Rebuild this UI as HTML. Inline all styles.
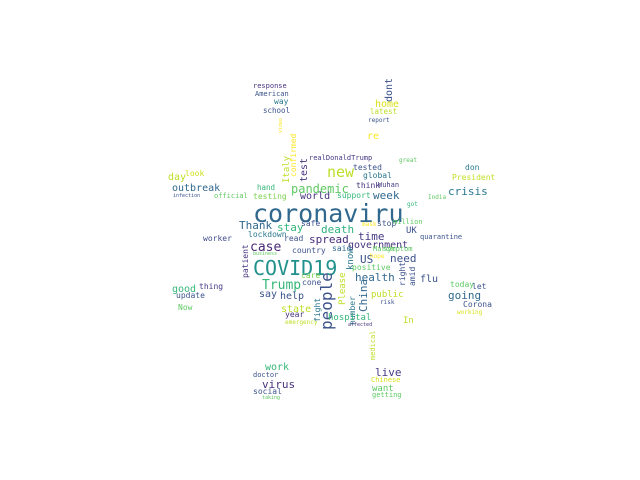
<!DOCTYPE html>
<html><head><meta charset="utf-8"><style>
html,body{margin:0;padding:0;background:#fff;}
svg{display:block;}
text{font-family:"DejaVu Sans Mono","Liberation Mono",monospace;}
</style></head><body>
<svg id="cloud" width="640" height="480" viewBox="0 0 640 480"></svg>
<script>
// word, font size, color, x, y, rotated
const words = ["coronaviru","COVID19","people","pandemic","new","Trump","case","time","death","spread","government","stay","Thank","week","crisis","health","going","China","live","virus","US","need","home","day","outbreak","world","good","say","help","state","work","flu","dont","test","Italy","confirmed","response","American","way","school","look","hand","testing","safe","lockdown","read","worker","realDonaldTrump","latest","report","re","tested","global","don","President","think","Wuhan","support","India","stop","million","UK","quarantine","country","patient","thing","update","cone","care","Now","year","emergency","fight","doctor","social","said","know","positive","March","symptom","right","amid","today","let","public","Please","number","Corona","risk","working","hospital","In","medical","Chinese","want","getting","official","great","hope","mask","got","infection","taking","affected","video","business"];
const sizes = [25,20,16,12,15,13,13,11,11,11,10,11,11,11,11,11,11,11,11,11,11,11,10,10,10,10,10,10,10,10,10,10,10,10,9,8,7,7,8,7.5,8,7.5,8,8,8,8,8,7,7.5,6,10,8,8,8,8,8,7,8,6,8,7,9,7,8,8,8,8,8,8,8,8,6,8,7,8,8,9,8,7,7,8,8,8,8,9,9,8,8,6,6,9,9,7,7,9,7,7,6,6,6,6,5,5,5,5,5];
const colors = ["#31688e","#21918c","#3b528b","#5ec962","#bddf26","#35b779","#482878","#443983","#2db27d","#472d7b","#46337e","#35b779","#31688e","#31688e","#2a788e","#31688e","#31688e","#31688e","#443983","#46337e","#3b528b","#3b528b","#d8e219","#bddf26","#31688e","#46337e","#35b779","#3b528b","#3b528b","#bddf26","#35b779","#3b528b","#3b528b","#46337e","#bddf26","#fde725","#46337e","#3b528b","#2a788e","#3b528b","#d0e11c","#35b779","#7ad151","#3b528b","#2a788e","#3b528b","#3e4a89","#443983","#bddf26","#3b528b","#fde725","#3b528b","#2a788e","#2a788e","#c2df23","#46337e","#443983","#35b779","#5ec962","#3b528b","#5ec962","#3b528b","#3b528b","#3b528b","#46337e","#443983","#3b528b","#3b528b","#7ad151","#5ec962","#46337e","#bddf26","#2a788e","#3b528b","#3b528b","#31688e","#2a788e","#5ec962","#5ec962","#5ec962","#3b528b","#3b528b","#5ec962","#3b528b","#bddf26","#bddf26","#2a788e","#3b528b","#3b528b","#d8e219","#35b779","#bddf26","#bddf26","#d8e219","#5ec962","#5ec962","#5ec962","#5ec962","#fde725","#fde725","#35b779","#3b528b","#5ec962","#46337e","#fde725","#5ec962"];
const posX = [253,253,332,291,327,262,250,358,321,309,348,277,239,373,448,355,448,367,375,262,360,390,375,168,172,300,172,259,280,281,265,420,392,307,289,296,253,255,274,263,185,257,253,301,248,284,203,309,370,368,367,353,363,465,452,356,378,337,428,377,393,406,420,292,248,199,176,302,301,178,285,285,320,253,253,332,353,352,373,383,405,415,450,472,371,345,355,463,380,457,328,403,375,371,372,372,214,399,370,362,407,173,262,348,282,253];
const posY = [222,275,330,193,177,289,251,240,233,243,248,231,229,199,195,281,299,312,376,388,263,262,107,180,191,199,292,297,299,312,370,282,102,182,183,177,88,96,104,113,176,190,199,226,237,241,241,160,114,122,139,170,178,170,180,188,187,198,199,226,224,233,239,253,278,289,298,285,278,310,317,324,322,377,394,251,270,270,251,251,286,286,287,289,297,305,325,307,304,314,320,323,360,382,391,397,198,162,258,226,206,197,399,326,133,255];
const rotated = [0,0,1,0,0,0,0,0,0,0,0,0,0,0,0,0,0,1,0,0,0,0,0,0,0,0,0,0,0,0,0,0,1,1,1,1,0,0,0,0,0,0,0,0,0,0,0,0,0,0,0,0,0,0,0,0,0,0,0,0,0,0,0,0,1,0,0,0,0,0,0,0,1,0,0,0,1,0,0,0,1,1,0,0,0,1,1,0,0,0,0,0,1,0,0,0,0,0,0,0,0,0,0,0,1,0];

const svg = document.getElementById('cloud');
const NS = 'http://www.w3.org/2000/svg';
for (let i = 0; i < words.length; i++) {
  const t = document.createElementNS(NS, 'text');
  
  
  t.setAttribute('font-size', sizes[i]);
  t.setAttribute('fill', colors[i]);
  if (rotated[i]) {
    t.setAttribute('transform', 'translate(' + posX[i] + ',' + posY[i] + ') rotate(-90)');
  } else {
    t.setAttribute('x', posX[i]);
    t.setAttribute('y', posY[i]);
  }
  t.textContent = words[i];
  svg.appendChild(t);
}
</script>
</body></html>
